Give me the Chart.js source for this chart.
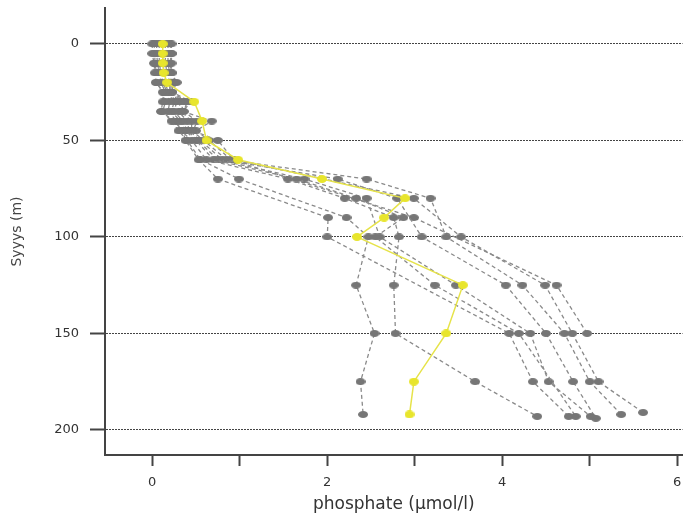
<!DOCTYPE html>
<html>
<head>
<meta charset="utf-8">
<script src="https://cdn.jsdelivr.net/npm/chart.js@4.4.0/dist/chart.umd.min.js"></script>
<style>
html,body{margin:0;padding:0;background:#fff;}
#wrap{width:688px;height:520px;}
</style>
</head>
<body>
<div id="wrap"><canvas id="c" width="688" height="520"></canvas></div>
<script>
// ---- Data (depth in m, phosphate in µmol/l) ----
const yTickValues = [0, 50, 100, 150, 200];
const xTickValues = [0, 1, 2, 3, 4, 5, 6];
const xTickLabels = ['0', '', '2', '', '4', '', '6'];

const upperDepths = [0, 5, 10, 15, 20, 25, 30, 35, 40, 45, 50, 60];

const profileA_depth = upperDepths.concat([70, 90, 100, 125, 150, 175, 192]);
const profileA_po4   = [0.02,0.03,0.03,0.05,0.05,0.12,0.15,0.12,0.22,0.30,0.40,0.55, 0.99,2.22,2.47,2.33,2.54,2.38,2.41];

const profileB_depth = upperDepths.concat([70, 80, 90, 100, 125, 150, 175, 193]);
const profileB_po4   = [0.05,0.05,0.06,0.08,0.10,0.15,0.20,0.18,0.28,0.33,0.45,0.62, 1.55,2.20,2.76,2.82,2.76,2.78,3.69,4.40];

const profileC_depth = upperDepths.concat([70, 90, 100, 150, 175, 193]);
const profileC_po4   = [0.00,0.00,0.02,0.03,0.04,0.13,0.12,0.10,0.25,0.35,0.38,0.53, 0.75,2.01,2.00,4.08,4.35,4.76];

const profileD_depth = upperDepths.concat([70, 80, 90, 100, 125, 150, 193]);
const profileD_po4   = [0.08,0.08,0.08,0.10,0.12,0.17,0.25,0.22,0.32,0.38,0.50,0.70, 1.65,2.33,2.87,2.55,3.23,4.19,4.84];

const profileE_depth = upperDepths.concat([70, 80, 100, 125, 150, 175, 193]);
const profileE_po4   = [0.10,0.12,0.12,0.14,0.15,0.18,0.28,0.25,0.35,0.40,0.52,0.75, 1.74,2.45,2.60,3.47,4.32,4.53,5.01];

const profileF_depth = upperDepths.concat([70, 80, 100, 125, 150, 175, 194]);
const profileF_po4   = [0.15,0.15,0.15,0.17,0.20,0.20,0.32,0.30,0.40,0.42,0.55,0.80, 2.12,2.80,3.08,4.04,4.50,4.81,5.07];

const profileG_depth = upperDepths.concat([70, 80, 100, 125, 150, 175, 192]);
const profileG_po4   = [0.18,0.18,0.18,0.20,0.22,0.21,0.36,0.33,0.45,0.45,0.59,0.85, 2.45,3.18,3.36,4.23,4.71,5.00,5.36];

const profileH_depth = upperDepths.concat([80, 100, 125, 150, 175, 191]);
const profileH_po4   = [0.20,0.22,0.22,0.22,0.25,0.22,0.40,0.36,0.51,0.47,0.75,0.93, 2.99,3.53,4.49,4.80,5.10,5.61];

const profileI_depth = upperDepths.concat([90, 125, 150]);
const profileI_po4   = [0.22,0.22,0.20,0.22,0.28,0.23,0.44,0.35,0.68,0.50,0.65,0.90, 2.99,4.62,4.97];

const highlight_depth = [0, 5, 10, 15, 20, 30, 40, 50, 60, 70, 80, 90, 100, 125, 150, 175, 192];
const highlight_po4   = [0.12,0.12,0.12,0.13,0.17,0.48,0.57,0.62,0.98,1.94,2.89,2.65,2.34,3.55,3.36,2.99,2.94];

const greyProfiles = [
  [profileA_depth, profileA_po4], [profileB_depth, profileB_po4], [profileC_depth, profileC_po4],
  [profileD_depth, profileD_po4], [profileE_depth, profileE_po4], [profileF_depth, profileF_po4],
  [profileG_depth, profileG_po4], [profileH_depth, profileH_po4], [profileI_depth, profileI_po4]
];

// ---- Styling helpers ----
function ellipseSprite(w, h, color) {
  const c = document.createElement('canvas');
  c.width = w; c.height = h;
  const g = c.getContext('2d');
  g.fillStyle = color;
  g.beginPath();
  g.ellipse(w / 2, h / 2, w / 2, h / 2, 0, 0, Math.PI * 2);
  g.fill();
  return c;
}
const greyDot = ellipseSprite(10, 7, '#767676');
const yellowDot = ellipseSprite(10, 8, '#e8e52c');

function toPoints(depths, vals) {
  return depths.map((d, i) => ({ x: vals[i], y: d }));
}

const datasets = [];
datasets.push({
  data: toPoints(highlight_depth, highlight_po4),
  showLine: true,
  borderColor: '#e6e34a',
  borderWidth: 1.5,
  pointStyle: yellowDot,
  pointRadius: 4,
  pointHoverRadius: 4
});
greyProfiles.forEach(p => {
  datasets.push({
    data: toPoints(p[0], p[1]),
    showLine: true,
    borderColor: '#8a8a8a',
    borderWidth: 1.3,
    borderDash: [4, 3],
    pointStyle: greyDot,
    pointRadius: 4,
    pointHoverRadius: 4
  });
});

const FONT = "'DejaVu Sans', 'Liberation Sans', sans-serif";

new Chart(document.getElementById('c'), {
  type: 'scatter',
  data: { datasets },
  options: {
    responsive: false,
    animation: false,
    devicePixelRatio: 1,
    layout: { padding: { top: 8, left: 0, right: 0, bottom: 0 } },
    plugins: { legend: { display: false }, tooltip: { enabled: false } },
    events: [],
    scales: {
      x: {
        type: 'linear',
        position: 'bottom',
        min: -0.54,
        max: 6.06,
        border: { display: true, color: '#444', width: 2 },
        grid: { drawOnChartArea: false, drawTicks: true, tickLength: 11, tickColor: '#444', tickWidth: 2 },
        afterBuildTicks: s => { s.ticks = xTickValues.map(v => ({ value: v })); },
        afterFit: s => { s.height = 65; s.paddingLeft = 0; s.paddingRight = 0; },
        ticks: {
          autoSkip: false, maxRotation: 0, padding: 9,
          color: '#333', font: { family: FONT, size: 13 },
          callback: (v) => { const i = xTickValues.indexOf(v); return i >= 0 ? xTickLabels[i] : ''; }
        },
        title: {
          display: true, text: 'phosphate (µmol/l)', color: '#333',
          font: { family: FONT, size: 17 }, padding: { top: 0, bottom: 5 }
        }
      },
      y: {
        type: 'linear',
        reverse: true,
        min: -18.6,
        max: 213,
        border: { display: true, color: '#444', width: 2, dash: [2, 1] },
        grid: { drawOnChartArea: true, color: '#444', lineWidth: 1, drawTicks: true, tickLength: 15, tickColor: '#444', tickWidth: 2 },
        afterBuildTicks: s => { s.ticks = yTickValues.map(v => ({ value: v })); },
        afterFit: s => { s.width = 105; s.paddingTop = 0; s.paddingBottom = 0; },
        ticks: {
          padding: 11, color: '#333', font: { family: FONT, size: 13 },
          callback: v => String(v)
        },
        title: {
          display: true, text: 'Syyys (m)', color: '#444',
          font: { family: FONT, size: 14 }, padding: { top: 9, bottom: 0 }
        }
      }
    }
  }
});
</script>
</body>
</html>
